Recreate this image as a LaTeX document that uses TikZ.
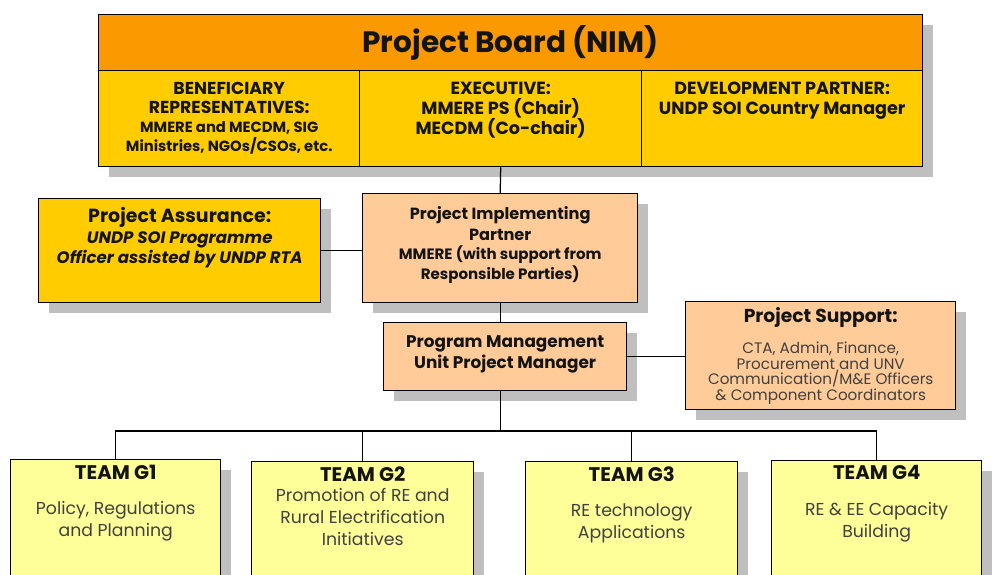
\documentclass[tikz,border=0pt]{standalone}
\usepackage{fontspec}
\setmainfont{Poppins}
\usepackage{xcolor}
\usepackage{tikz}
\usetikzlibrary{positioning, calc, shadows}
\definecolor{boardorange}{RGB}{250, 154, 0}
\definecolor{boardgold}{RGB}{255, 204, 0}
\definecolor{peach}{RGB}{255, 204, 153}
\definecolor{teamyellow}{RGB}{255, 255, 153}
\definecolor{shadowgray}{RGB}{191, 191, 191}
\definecolor{darktext}{RGB}{20, 20, 20}
\definecolor{greytext}{RGB}{64, 64, 64}
\newlength{\px}
\setlength{\px}{0.025cm}
% width, height, top gap, content (all in px)
\newcommand{\boxtext}[4]{\parbox[c][#2\px][t]{#1\px}{\centering\vspace*{#3\px}#4}}
\newcommand{\fs}[2]{\fontsize{#1}{#2}\selectfont}

\tikzset{
    orgbox/.style={draw=black, line width=1pt, anchor=north west, inner sep=0pt, text=darktext,
        drop shadow={shadow xshift=7pt, shadow yshift=-7pt, fill=shadowgray, opacity=1}},
    teambox/.style={orgbox, fill=teamyellow},
    link/.style={draw=black, line width=0.9pt}
}

\begin{document}
\begin{tikzpicture}[x=0.025cm, y=-0.025cm]
    \useasboundingbox (0,0) rectangle (992,574);
    \clip (0,0) rectangle (992,574);

    % project board
    \node[orgbox, fill=boardorange, minimum width=824\px, minimum height=56\px] (board) at (98,14)
        {\fs{21}{24}\bfseries Project Board (NIM)};
    \node[orgbox, fill=boardgold] (benef) at (98,70) {\boxtext{261}{96}{12}{\bfseries
        \fs{12.3}{13.5}BENEFICIARY\\ REPRESENTATIVES:\\
        \fs{10.5}{13.5}MMERE and MECDM, SIG\\ Ministries, NGOs/CSOs, etc.}};
    \node[orgbox, fill=boardgold] (exec) at (359,70) {\boxtext{282}{96}{11}{\fs{12.5}{14.3}\bfseries
        EXECUTIVE:\\ MMERE PS (Chair)\\ MECDM (Co-chair)}};
    \node[orgbox, fill=boardgold] (devpart) at (641,70) {\boxtext{281}{96}{11}{\fs{12.5}{14.3}\bfseries
        DEVELOPMENT PARTNER:\\ UNDP SOI Country Manager}};

    % second level
    \node[orgbox, fill=boardgold] (assur) at (38,198) {\boxtext{282}{104}{9}{\bfseries
        \fs{13.5}{14.5}Project Assurance:\\
        \fs{11.8}{14.5}\itshape UNDP SOI Programme\\ Officer assisted by UNDP RTA}};
    \node[orgbox, fill=peach] (impl) at (362,193) {\boxtext{275}{109}{13}{\bfseries
        \fs{11.5}{14.5}Project Implementing\\ Partner\\
        \fs{10.7}{14}MMERE (with support from\\ Responsible Parties)}};
    \node[orgbox, fill=peach] (pmu) at (383,322) {\boxtext{243}{68}{13}{\fs{12}{15}\bfseries
        Program Management\\ Unit Project Manager}};
    \node[orgbox, fill=peach] (supp) at (685,301) {\boxtext{270}{108}{6}{%
        {\fs{13.3}{14}\bfseries Project Support:\par}\vspace{9pt}
        \fs{10.8}{11.2}\color{greytext}CTA, Admin, Finance,\\ Procurement and UNV\\
        Communication/M\&E Officers\\ \& Component Coordinators}};

    % teams
    \node[teambox] (g1) at (10,459) {\boxtext{210}{140}{5}{%
        {\fs{14}{15}\bfseries TEAM G1\par}\vspace{9.5pt}
        \fs{12.3}{15.6}\color{greytext}Policy, Regulations\\ and Planning}};
    \node[teambox] (g2) at (251,461) {\boxtext{222}{140}{5}{%
        {\fs{14}{15}\bfseries TEAM G2\par}\vspace{-1.5pt}
        \fs{12.3}{15.6}\color{greytext}Promotion of RE and\\ Rural Electrification\\ Initiatives}};
    \node[teambox] (g3) at (525,461) {\boxtext{212}{140}{5}{%
        {\fs{14}{15}\bfseries TEAM G3\par}\vspace{9.5pt}
        \fs{12.3}{15.6}\color{greytext}RE technology\\ Applications}};
    \node[teambox] (g4) at (771,460) {\boxtext{210}{140}{5}{%
        {\fs{14}{15}\bfseries TEAM G4\par}\vspace{9.5pt}
        \fs{12.3}{15.6}\color{greytext}RE \& EE Capacity\\ Building}};

    % connectors
    \draw[link] (exec.south) -- (impl.north);
    \draw[link] (assur.east) -- (assur.east -| impl.west);
    \draw[link] (impl.south) -- (impl.south |- pmu.north);
    \draw[link] (pmu.east) -- (pmu.east -| supp.west);
    \coordinate (bus) at (impl.south |- 0,431);
    \draw[link] (pmu.south -| bus) -- (bus);
    \foreach \t in {g1, g2, g3, g4}
        \draw[link] (bus) -| (\t.north);
\end{tikzpicture}
\end{document}
